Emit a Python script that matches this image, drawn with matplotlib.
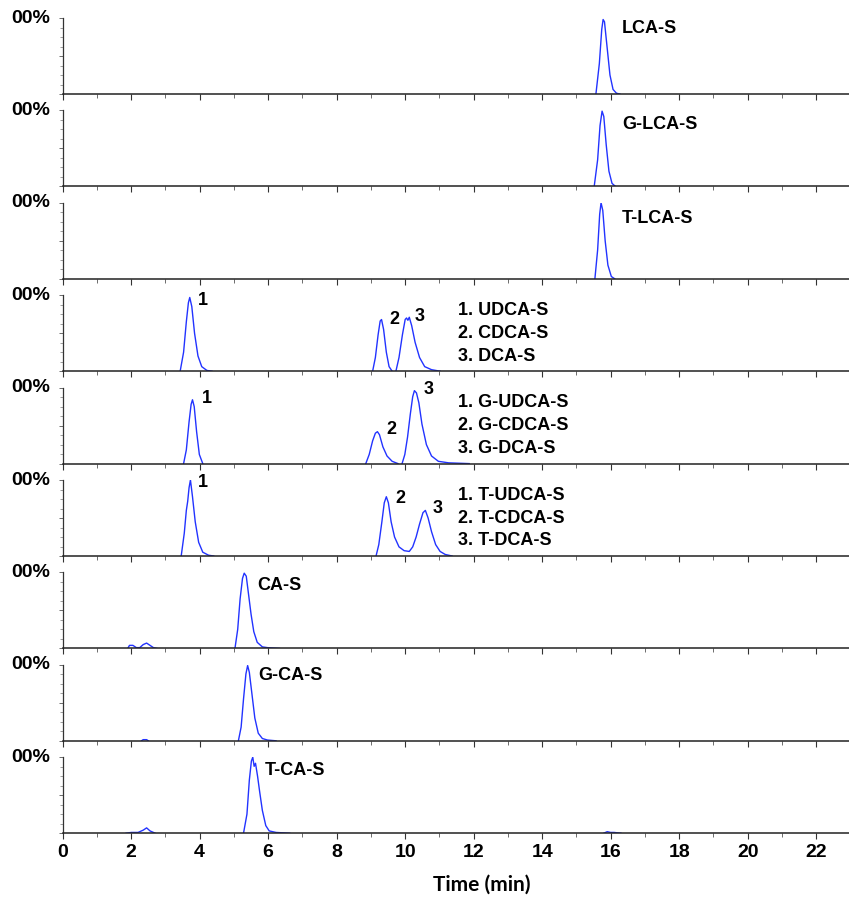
import numpy as np
import matplotlib
matplotlib.use("Agg")
import matplotlib.pyplot as plt
from matplotlib.ticker import MultipleLocator

# --- data (time in min, relative intensity in %) ---
lca_t = [15.57, 15.67, 15.74, 15.78, 15.82, 15.90, 15.98, 16.07, 16.17, 16.27]
lca_y = [0, 40, 85, 98, 95, 60, 25, 6, 1, 0]

glca_t = [15.52, 15.62, 15.69, 15.75, 15.80, 15.87, 15.95, 16.04, 16.14]
glca_y = [0, 35, 80, 99, 92, 55, 20, 4, 0]

tlca_t = [15.54, 15.62, 15.68, 15.72, 15.77, 15.84, 15.92, 16.02, 16.12]
tlca_y = [0, 38, 85, 100, 90, 50, 18, 3, 0]

udca_t = [3.43, 3.53, 3.61, 3.67, 3.71, 3.77, 3.85, 3.95, 4.06, 4.21, 4.36]
udca_y = [0, 25, 65, 90, 97, 85, 50, 20, 6, 1, 0]
cdca_t = [9.05, 9.13, 9.21, 9.27, 9.31, 9.37, 9.45, 9.53, 9.62]
cdca_y = [0, 18, 48, 66, 68, 55, 25, 6, 0]
dca_t = [9.73, 9.82, 9.92, 10.00, 10.04, 10.08, 10.12, 10.19, 10.29, 10.42, 10.57, 10.77, 11.02]
dca_y = [0, 18, 48, 68, 70, 67, 71, 60, 38, 18, 6, 2, 0]

gudca_t = [3.53, 3.61, 3.69, 3.75, 3.79, 3.84, 3.91, 3.99, 4.09]
gudca_y = [0, 18, 55, 78, 84, 75, 42, 12, 0]
gcdca_t = [8.85, 8.95, 9.05, 9.13, 9.19, 9.25, 9.35, 9.47, 9.62, 9.79]
gcdca_y = [0, 12, 30, 40, 42, 38, 22, 10, 3, 0]
gdca_t = [9.91, 9.99, 10.07, 10.15, 10.22, 10.27, 10.33, 10.40, 10.49, 10.62, 10.77, 10.97, 11.27, 11.87]
gdca_y = [0, 12, 35, 65, 88, 96, 93, 80, 52, 25, 10, 3, 1, 0]

tudca_t = [3.46, 3.55, 3.61, 3.65, 3.69, 3.73, 3.79, 3.87, 3.97, 4.09, 4.26, 4.41]
tudca_y = [0, 30, 60, 72, 90, 100, 78, 45, 18, 5, 1, 0]
tcdca_dca_t = [9.15, 9.23, 9.32, 9.39, 9.45, 9.51, 9.59, 9.69, 9.82, 9.97, 10.12,
               10.22, 10.32, 10.42, 10.52, 10.59, 10.67, 10.77, 10.89, 11.02, 11.17, 11.37]
tcdca_dca_y = [0, 15, 45, 70, 78, 70, 45, 25, 12, 7, 6,
               12, 25, 42, 57, 60, 50, 32, 15, 6, 2, 0]

ca_small_t = [1.90, 1.95, 2.05, 2.15, 2.25, 2.35, 2.45, 2.55, 2.65, 2.75]
ca_small_y = [0, 4, 4, 1, 1, 5, 7, 4, 1, 0]
ca_t = [5.03, 5.11, 5.18, 5.25, 5.30, 5.36, 5.43, 5.50, 5.58, 5.68, 5.83, 5.98, 6.33]
ca_y = [0, 25, 65, 92, 99, 95, 70, 45, 22, 8, 2, 1, 0]

gca_small_t = [2.30, 2.35, 2.45, 2.50]
gca_small_y = [0, 1.5, 1.5, 0]
gca_t = [5.13, 5.21, 5.28, 5.35, 5.40, 5.45, 5.53, 5.61, 5.71, 5.83, 5.98, 6.23]
gca_y = [0, 18, 55, 88, 99, 90, 60, 30, 10, 3, 1, 0]

tca_small_t = [1.85, 2.00, 2.20, 2.35, 2.45, 2.55, 2.70]
tca_small_y = [0, 1, 1, 4, 7, 3, 0]
tca_t = [5.28, 5.38, 5.45, 5.51, 5.55, 5.59, 5.63, 5.69, 5.75, 5.83, 5.93, 6.03, 6.23, 6.63]
tca_y = [0, 25, 70, 95, 100, 88, 92, 75, 55, 30, 10, 3, 1, 0]
tca_late_t = [15.80, 15.90, 16.00, 16.10, 16.30]
tca_late_y = [0, 2, 1, 1, 0]

single_names = ["LCA-S", "G-LCA-S", "T-LCA-S", "CA-S", "G-CA-S", "T-CA-S"]
udca_names = ["1. UDCA-S", "2. CDCA-S", "3. DCA-S"]
gudca_names = ["1. G-UDCA-S", "2. G-CDCA-S", "3. G-DCA-S"]
tudca_names = ["1. T-UDCA-S", "2. T-CDCA-S", "3. T-DCA-S"]
peak_numbers = ["1", "2", "3"]

panels = [
    [(lca_t, lca_y)],
    [(glca_t, glca_y)],
    [(tlca_t, tlca_y)],
    [(udca_t, udca_y), (cdca_t, cdca_y), (dca_t, dca_y)],
    [(gudca_t, gudca_y), (gcdca_t, gcdca_y), (gdca_t, gdca_y)],
    [(tudca_t, tudca_y), (tcdca_dca_t, tcdca_dca_y)],
    [(ca_small_t, ca_small_y), (ca_t, ca_y)],
    [(gca_small_t, gca_small_y), (gca_t, gca_y)],
    [(tca_small_t, tca_small_y), (tca_t, tca_y), (tca_late_t, tca_late_y)],
]

W, H = 849, 898
fig = plt.figure(figsize=(W / 100, H / 100), dpi=100)

left = 62.7 / W
pitch = 92.4 / H
ph = 76 / H
top0 = 1 - 94 / H  # bottom of first panel

lab_font = dict(family=["Liberation Sans", "DejaVu Sans"], fontweight="bold", fontsize=13)
blue = "#2233ff"

axes = []
for i, traces in enumerate(panels):
    ax = fig.add_axes([left, top0 - i * pitch, 1 - left, ph])
    for t, y in traces:
        ax.plot(t, y, color=blue, lw=1.0)
    ax.set_xlim(0, 22.96)
    ax.set_ylim(0, 100)
    for s in ["top", "right"]:
        ax.spines[s].set_visible(False)
    ax.spines["left"].set_linewidth(0.9)
    ax.spines["bottom"].set_linewidth(1.1)
    ax.spines["left"].set_color("#333333")
    ax.spines["bottom"].set_color("#222222")
    ax.xaxis.set_major_locator(MultipleLocator(2))
    ax.xaxis.set_minor_locator(MultipleLocator(1))
    ax.yaxis.set_major_locator(MultipleLocator(50))
    ax.yaxis.set_minor_locator(MultipleLocator(12.5))
    ax.tick_params(axis="x", which="major", length=4, width=0.8, color="#333333")
    ax.tick_params(axis="x", which="minor", length=3, width=0.6, color="#555555")
    ax.tick_params(axis="y", which="major", length=3, width=0.6, color="#555555")
    ax.tick_params(axis="y", which="minor", length=2, width=0.5, color="#777777")
    ax.set_yticklabels([])
    if i < len(panels) - 1:
        ax.set_xticklabels([])
    ax.text(11 / W, top0 - i * pitch + ph, "00%", transform=fig.transFigure,
            ha="left", va="center", family=["Liberation Sans", "DejaVu Sans"],
            fontweight="bold", fontsize=14)
    axes.append(ax)

# single-compound labels
for ax, name, (x, y) in zip([axes[0], axes[1], axes[2], axes[6], axes[7], axes[8]],
                            single_names,
                            [(16.33, 86), (16.33, 82), (16.33, 80), (5.68, 83), (5.71, 86), (5.91, 83)]):
    ax.text(x, y, name, ha="left", va="center", **lab_font)

# numbered peaks and legends
num_pos = [
    [(3.95, 93), (9.54, 68), (10.27, 72)],
    [(4.06, 86), (9.45, 45), (10.55, 97)],
    [(3.95, 97), (9.71, 76), (10.81, 62)],
]
for ax, names, nums in zip(axes[3:6], [udca_names, gudca_names, tudca_names], num_pos):
    for lbl, (x, y) in zip(peak_numbers, nums):
        ax.text(x, y, lbl, ha="left", va="center", **lab_font)
    for k, name in enumerate(names):
        ax.text(11.55, 80 - k * 30, name, ha="left", va="center", **lab_font)

bax = axes[-1]
for lbl in bax.get_xticklabels():
    lbl.set_fontfamily(["Liberation Sans", "DejaVu Sans"])
    lbl.set_fontweight("bold")
    lbl.set_fontsize(14)
bax.tick_params(axis="x", which="major", pad=4)
bax.set_xlabel("Time (min)", fontfamily=["Lato", "DejaVu Sans"], fontweight="bold",
               fontsize=15, labelpad=10)
bax.xaxis.set_label_coords(0.533, -0.55)

fig.savefig("out.png", dpi=100)
